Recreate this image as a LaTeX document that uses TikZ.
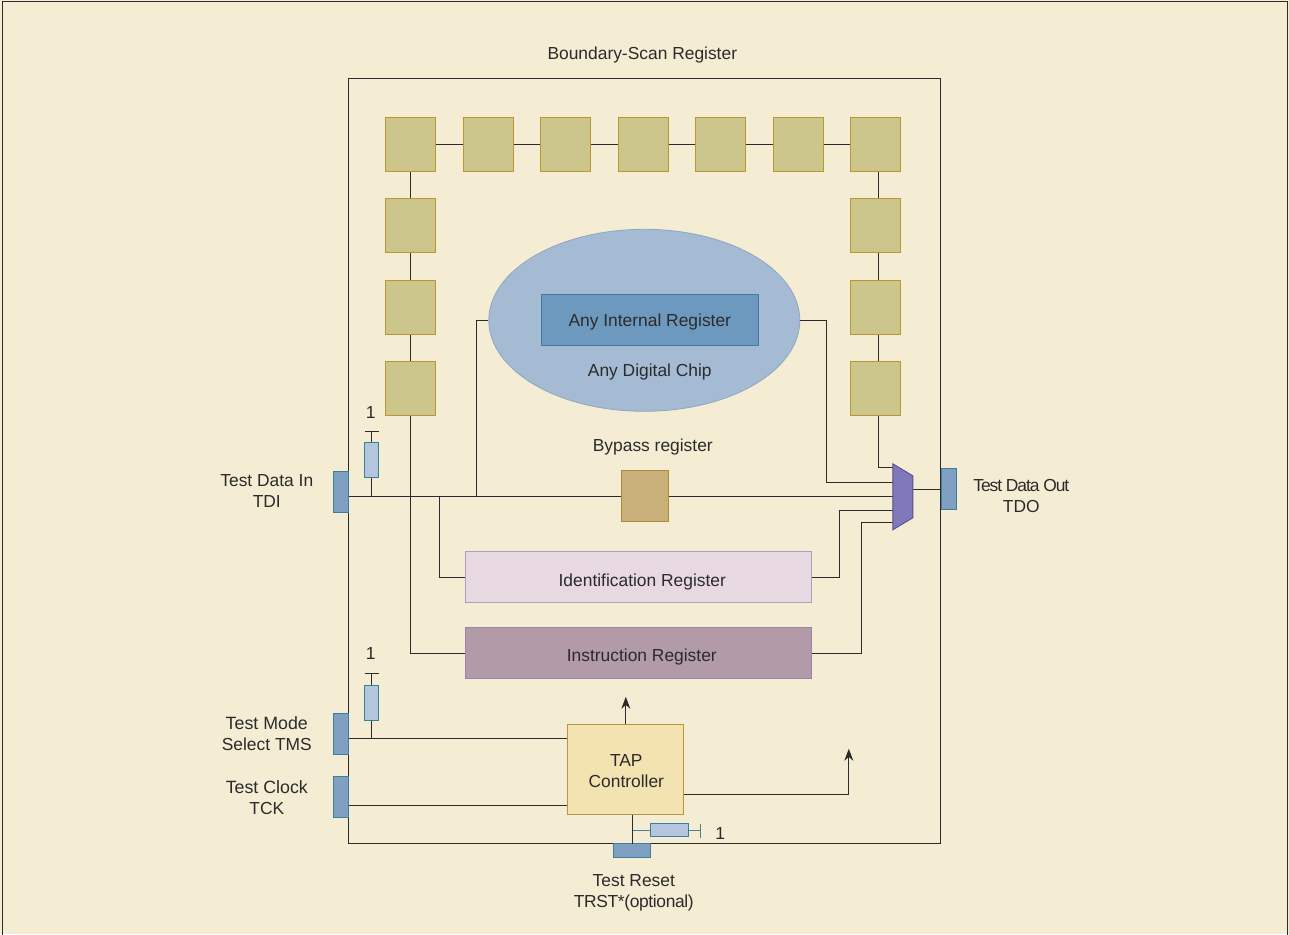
\documentclass[tikz,border=0pt]{standalone}
\usepackage{fontspec}
\setmainfont{Liberation Sans}
\usetikzlibrary{arrows.meta,shapes.geometric}
\definecolor{bgc}{HTML}{F5ECD4}
\definecolor{cellf}{HTML}{CCC58C}
\definecolor{celld}{HTML}{B8982F}
\definecolor{ellf}{HTML}{A5BAD3}
\definecolor{elld}{HTML}{8FA6C2}
\definecolor{intf}{HTML}{6E99BE}
\definecolor{intd}{HTML}{3F7D9F}
\definecolor{idf}{HTML}{E7D8E2}
\definecolor{idd}{HTML}{AF9FBE}
\definecolor{insf}{HTML}{B29AA9}
\definecolor{insd}{HTML}{9B86A8}
\definecolor{bypf}{HTML}{C9AF78}
\definecolor{bypd}{HTML}{AC8C3A}
\definecolor{tapf}{HTML}{F3E3B1}
\definecolor{tapd}{HTML}{BB953C}
\definecolor{pinf}{HTML}{7F9FC3}
\definecolor{pind}{HTML}{3A7F9B}
\definecolor{resf}{HTML}{B3C6DD}
\definecolor{muxf}{HTML}{8079B9}
\definecolor{muxd}{HTML}{55508F}
\definecolor{ink}{HTML}{2B2B2B}
\tikzset{
  x=1pt,y=-1pt,
  box/.style={draw,rectangle,inner sep=0pt,line width=0.9pt},
  cell/.style={box,fill=cellf,draw=celld,minimum width=50pt,minimum height=54pt},
  pin/.style={box,fill=pinf,draw=pind},
  res/.style={box,fill=resf,draw=pind},
  lbl/.style={text=ink,font=\fontsize{17.4}{21}\selectfont,align=center,inner sep=0pt,yshift=-2pt},
  wire/.style={draw=ink,line width=0.9pt},
  tealwire/.style={draw=pind!70!gray,line width=0.9pt},
  arr/.style={wire,-{Stealth[length=12pt,width=9pt]}}
}
\begin{document}
\begin{tikzpicture}
\useasboundingbox (0,0) rectangle (1289,934);
\fill[bgc] (0,0) rectangle (1289,934);
\begin{scope}[shift={(-0.2,-0.2)}]
\draw[ink,line width=0.9pt] (3,935) -- (3,1.6) -- (1288,1.6) -- (1288,935);
\node[draw=ink,line width=0.9pt,rectangle,inner sep=0pt,minimum width=592pt,minimum height=765pt] (main) at (645,461.5) {};
\node[lbl] (title) at (642.5,53) {Boundary-Scan Register};

% cells
\node[cell] (t1) at (411,145) {};
\node[cell] (t2) at (488.5,145) {};
\node[cell] (t3) at (566,145) {};
\node[cell] (t4) at (643.5,145) {};
\node[cell] (t5) at (721,145) {};
\node[cell] (t6) at (798.5,145) {};
\node[cell] (t7) at (876,145) {};
\node[cell] (l1) at (411,226) {};
\node[cell] (l2) at (411,308) {};
\node[cell] (l3) at (411,389) {};
\node[cell] (r1) at (876,226) {};
\node[cell] (r2) at (876,308) {};
\node[cell] (r3) at (876,389) {};

\draw[wire] (t1) -- (t2);
\draw[wire] (t2) -- (t3);
\draw[wire] (t3) -- (t4);
\draw[wire] (t4) -- (t5);
\draw[wire] (t5) -- (t6);
\draw[wire] (t6) -- (t7);
\draw[wire] (t1) -- (l1);
\draw[wire] (l1) -- (l2);
\draw[wire] (l2) -- (l3);
\draw[wire] ([xshift=3pt]t7.south) -- ([xshift=3pt]r1.north);
\draw[wire] ([xshift=3pt]r1.south) -- ([xshift=3pt]r2.north);
\draw[wire] ([xshift=3pt]r2.south) -- ([xshift=3pt]r3.north);

% chip
\node[draw=elld,fill=ellf,ellipse,inner sep=0pt,line width=0.8pt,minimum width=311pt,minimum height=182pt] (chip) at (644.5,320.5) {};
\node[box,fill=intf,draw=intd,minimum width=217pt,minimum height=51pt] (intr) at (650.5,320.5) {};
\node[lbl] (intlbl) at (650,320.5) {Any Internal Register};
\node[lbl] (chiplbl) at (650,370) {Any Digital Chip};

\node[lbl] (byplbl) at (653,445) {Bypass register};
\node[box,fill=bypf,draw=bypd,minimum width=47pt,minimum height=51pt] (byp) at (645.5,496.5) {};
\node[box,fill=idf,draw=idd,minimum width=346pt,minimum height=51pt] (idr) at (639,577.5) {};
\node[lbl] (idlbl) at (642.5,580) {Identification Register};
\node[box,fill=insf,draw=insd,minimum width=346pt,minimum height=51pt] (ins) at (639,653.5) {};
\node[lbl] (inslbl) at (642,655) {Instruction Register};
\node[box,fill=tapf,draw=tapd,minimum width=116pt,minimum height=90pt] (tap) at (626,770) {};
\node[lbl] (taplbl) at (626.5,769) {TAP\\Controller};

% pins
\node[pin,minimum width=15pt,minimum height=41pt] (tdi) at (341.5,492.5) {};
\node[pin,minimum width=15pt,minimum height=41pt] (tdo) at (949.5,489.5) {};
\node[pin,minimum width=15pt,minimum height=41pt] (tms) at (341.5,734.5) {};
\node[pin,minimum width=15pt,minimum height=41pt] (tck) at (341.5,797.5) {};
\node[pin,minimum width=37pt,minimum height=14pt] (trst) at (632.5,851) {};

\node[lbl] (tdilbl) at (267,489.5) {Test Data In\\TDI};
\node[lbl] (tdolbl) at (1021.5,494) {\addfontfeature{LetterSpace=-6}Test Data Out\\TDO};
\node[lbl] (tmslbl) at (267,731.5) {\fontsize{17.8}{21}\selectfont Test Mode\\Select TMS};
\node[lbl] (tcklbl) at (267,795.5) {\fontsize{17.8}{21}\selectfont Test Clock\\TCK};
\node[lbl] (trstlbl) at (634,891) {Test Reset\\\addfontfeature{LetterSpace=-2}TRST*(optional)};

% mux
\coordinate (mA) at (893,464);
\coordinate (mB) at (913,476);
\coordinate (mC) at (913,518);
\coordinate (mD) at (893,530);
\coordinate (m1) at (893,468);
\coordinate (m2) at (893,483);
\coordinate (m3) at (893,497);
\coordinate (m4) at (893,511);
\coordinate (m5) at (893,523);
\coordinate (mout) at (913,489.5);

% main wires
\coordinate (tdiE) at (349,497);
\coordinate (jA) at (372,497);
\coordinate (jB) at (440,497);
\coordinate (jC) at (477,497);
\draw[wire] (tdiE) -- (byp.west |- tdiE);
\draw[wire] (byp.east |- m3) -- (m3);
\draw[wire] (mout) -- (tdo.west |- mout);
\draw[wire] (chip.west) -- (jC |- chip.west) -- (jC);
\draw[wire] (chip.east) -- (827,320.5) -- (827,483) -- (m2);
\draw[wire] ([xshift=3pt]r3.south) -- (879,468) -- (m1);
\draw[wire] (jB) -- (jB |- idr.west) -- (idr.west);
\draw[wire] (idr.east) -- (840,577.5) -- (840,511) -- (m4);
\draw[wire] (ins.east) -- (862,653.5) -- (862,523) -- (m5);
\draw[wire] (l3.south) -- (l3.south |- ins.west) -- (ins.west);
\filldraw[fill=muxf,draw=muxd,line width=0.9pt] (mA) -- (mB) -- (mC) -- (mD) -- cycle;

% TAP wires
\coordinate (tmsE) at (349,739);
\coordinate (tckE) at (349,806);
\draw[wire] (tmsE) -- (tap.west |- tmsE);
\draw[wire] (tckE) -- (tap.west |- tckE);
\coordinate (upA) at (626,697);
\draw[arr] (tap.north) -- (upA);
\coordinate (tapR) at (684,795);
\coordinate (upB) at (849,749);
\draw[arr] (tapR) -- (849,795) -- (upB);
\coordinate (tapS) at (633,815);
\coordinate (trstN) at (633,844);
\draw[wire] (tapS) -- (trstN);

% pull-ups
\node[res,minimum width=14pt,minimum height=35pt] (r1v) at (372,460.5) {};
\coordinate (b1a) at (365,432); \coordinate (b1b) at (379,432); \coordinate (b1c) at (372,432);
\draw[wire] (b1a) -- (b1b);
\draw[wire] (b1c) -- (r1v.north);
\draw[wire] (r1v.south) -- (jA);
\node[lbl] (one1) at (371,411) {1};

\node[res,minimum width=14pt,minimum height=35pt] (r2v) at (372,703.5) {};
\coordinate (b2a) at (365,674); \coordinate (b2b) at (379,674); \coordinate (b2c) at (372,674);
\coordinate (jD) at (372,739);
\draw[wire] (b2a) -- (b2b);
\draw[wire] (b2c) -- (r2v.north);
\draw[wire] (r2v.south) -- (jD);
\node[lbl] (one2) at (371,652) {1};

\node[res,minimum width=38pt,minimum height=13pt] (r3h) at (670,830.5) {};
\coordinate (jE) at (633,830.5);
\coordinate (b3a) at (701,824); \coordinate (b3b) at (701,838); \coordinate (b3c) at (701,830.5);
\draw[tealwire] (jE) -- (r3h.west);
\draw[tealwire] (r3h.east) -- (b3c);
\draw[tealwire] (b3a) -- (b3b);
\node[lbl] (one3) at (720.5,832) {1};
\end{scope}
\end{tikzpicture}
\end{document}
